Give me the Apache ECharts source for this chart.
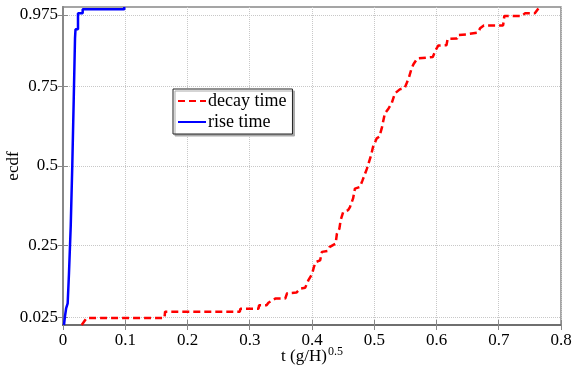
<!DOCTYPE html>
<html>
<head>
<meta charset="utf-8">
<script src="https://cdn.jsdelivr.net/npm/echarts@6/dist/echarts.min.js"></script>
<style>
  html, body { margin: 0; padding: 0; background: #fff; }
  #chart { width: 581px; height: 378px; }
</style>
</head>
<body>
<div id="chart"></div>
<script>
// ecdf of rise time (blue) and decay time (red)
const riseX = [0.0016, 0.003, 0.005, 0.0075, 0.0096, 0.0124, 0.0149, 0.0172, 0.0193, 0.0201, 0.0241, 0.0241, 0.0316, 0.0316, 0.0985, 0.0985]
const riseY = [0, 0.025, 0.052, 0.068, 0.162, 0.31, 0.5, 0.707, 0.902, 0.93, 0.93, 0.98, 0.98, 0.993, 0.993, 1.0]

const decayX = [0.030, 0.038, 0.163, 0.164, 0.284, 0.285, 0.314, 0.315, 0.327, 0.33, 0.341, 0.357, 0.36, 0.375, 0.381, 0.389, 0.394, 0.40, 0.403, 0.406, 0.413, 0.416, 0.425, 0.428, 0.438, 0.44, 0.444, 0.446, 0.45, 0.458, 0.461, 0.466, 0.469, 0.477, 0.481, 0.488, 0.495, 0.498, 0.504, 0.508, 0.512, 0.517, 0.523, 0.528, 0.533, 0.541, 0.549, 0.552, 0.556, 0.56, 0.563, 0.569, 0.572, 0.594, 0.599, 0.603, 0.616, 0.618, 0.633, 0.635, 0.648, 0.651, 0.667, 0.67, 0.676, 0.707, 0.709, 0.737, 0.742, 0.758, 0.764, 0.766]
const decayY = [0, 0.022, 0.022, 0.042, 0.042, 0.051, 0.051, 0.062, 0.062, 0.07, 0.083, 0.083, 0.10, 0.102, 0.114, 0.117, 0.14, 0.16, 0.182, 0.198, 0.203, 0.23, 0.233, 0.245, 0.256, 0.287, 0.303, 0.329, 0.355, 0.361, 0.371, 0.398, 0.429, 0.434, 0.454, 0.49, 0.534, 0.56, 0.587, 0.592, 0.618, 0.665, 0.681, 0.697, 0.728, 0.741, 0.746, 0.76, 0.78, 0.807, 0.82, 0.838, 0.843, 0.843, 0.866, 0.879, 0.88, 0.9, 0.901, 0.912, 0.914, 0.92, 0.92, 0.933, 0.942, 0.942, 0.972, 0.972, 0.98, 0.98, 0.996, 1.0]

const yTicks = [0.025, 0.25, 0.5, 0.75, 0.975]

const font = 'Liberation Serif'
const gridLine = { show: true, lineStyle: { color: '#c8c8c8', type: 'dotted', width: 1 } }
const zip = (xs, ys) => xs.map((x, i) => [x, ys[i]])

const chart = echarts.init(document.getElementById('chart'))
chart.setOption({
  animation: false,
  textStyle: { fontFamily: font },
  grid: { left: 63, right: 20, top: 7, bottom: 53, outerBoundsMode: 'none', containLabel: false, show: true, borderColor: '#888', borderWidth: 1.5 },
  legend: {
    orient: 'vertical', left: 173, top: 89,
    data: ['decay time', 'rise time'],
    itemWidth: 28, itemHeight: 10, itemGap: 3,
    padding: [3, 6, 3, 4],
    itemStyle: { opacity: 0 },
    backgroundColor: '#fff', borderColor: '#222', borderWidth: 1,
    shadowColor: '#aaa', shadowOffsetX: 2, shadowOffsetY: 2, shadowBlur: 0,
    textStyle: { fontFamily: font, fontSize: 18, color: '#000', padding: [0, 0, 0, -3] },
  },
  xAxis: [{
    type: 'value', min: 0, max: 0.8, interval: 0.1,
    name: '{a|t (g/H)}{s|0.5}', nameLocation: 'middle', nameGap: 21, nameMoveOverlap: false,
    nameTextStyle: { rich: {
      a: { fontFamily: font, fontSize: 17, color: '#000' },
      s: { fontFamily: font, fontSize: 12, color: '#000', verticalAlign: 'bottom', padding: [0, 0, 9, 1] },
    } },
    axisLine: { lineStyle: { color: '#000', width: 1.5 } },
    axisTick: { inside: true, length: 5, lineStyle: { color: '#888' } },
    axisLabel: { color: '#000', fontSize: 17, margin: 7 },
    splitLine: gridLine,
  }, {
    type: 'value', min: 0, max: 0.8, interval: 0.1, position: 'top',
    axisLine: { lineStyle: { color: '#888', width: 1.5 } },
    axisTick: { inside: true, length: 5, lineStyle: { color: '#888' } },
    axisLabel: { show: false }, splitLine: { show: false },
  }],
  yAxis: [{
    type: 'value', min: 0, max: 1,
    name: 'ecdf', nameLocation: 'middle', nameGap: 41, nameMoveOverlap: false,
    nameTextStyle: { fontFamily: font, fontSize: 17, color: '#000' },
    axisLine: { show: true, lineStyle: { color: '#888', width: 2 } },
    axisTick: { inside: true, length: 5, customValues: yTicks, lineStyle: { color: '#888' } },
    axisLabel: { color: '#000', fontSize: 17, margin: 5, customValues: yTicks },
    splitLine: Object.assign({ customValues: yTicks }, gridLine),
  }, {
    type: 'value', min: 0, max: 1, position: 'right',
    axisLine: { show: true, lineStyle: { color: '#888', width: 1.5 } },
    axisTick: { inside: true, length: 5, customValues: yTicks, lineStyle: { color: '#888' } },
    axisLabel: { show: false }, splitLine: { show: false },
  }],
  series: [{
    name: 'decay time', type: 'line', symbol: 'none',
    data: zip(decayX, decayY),
    itemStyle: { color: '#ff0000' },
    lineStyle: { color: '#ff0000', width: 2.5, type: [7, 4] },
  }, {
    name: 'rise time', type: 'line', symbol: 'none',
    data: zip(riseX, riseY),
    itemStyle: { color: '#0000ff' },
    lineStyle: { color: '#0000ff', width: 2.5 },
  }],
})
</script>
</body>
</html>
